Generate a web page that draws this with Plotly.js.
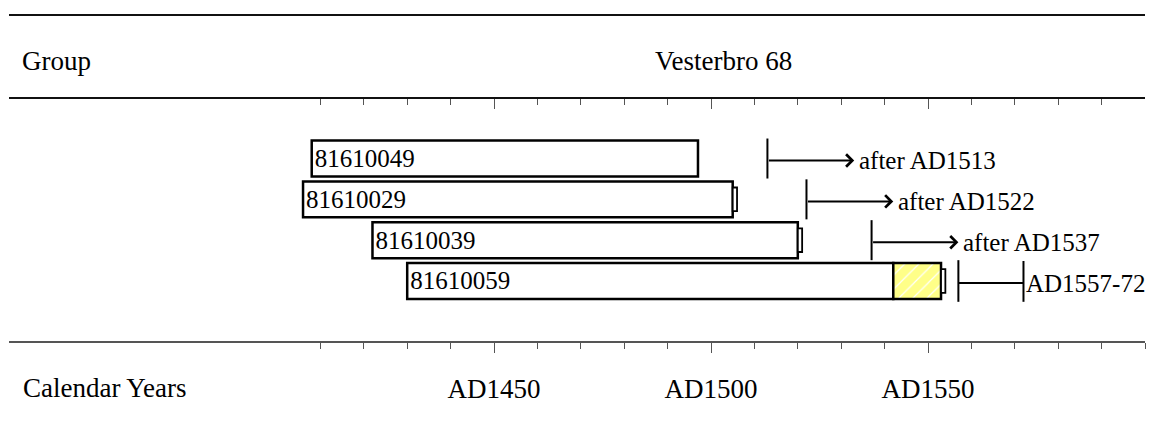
<!DOCTYPE html>
<html>
<head>
<meta charset="utf-8">
<script src="https://cdn.plot.ly/plotly-3.0.1.min.js"></script>
<style>html,body{margin:0;padding:0;background:#fff;}#chart{width:1149px;height:421px;}</style>
</head>
<body>
<div id="chart"></div>
<script>
// ---- data ----
const groupName = 'Vesterbro 68';
const sampleIds = ['81610049', '81610029', '81610039', '81610059'];
const rowPos = [1, 2, 3, 4];
const heartStart = [1408, 1406, 1422, 1430];
const heartEnd = [1497, 1505, 1520, 1542];
const sapRows = [4];
const sapStart = [1542];
const sapEnd = [1553];
const edgeRows = [2, 3, 4];
const edgeStart = [1505, 1520, 1553];
const edgeEnd = [1506, 1521, 1554];
const afterRows = [1, 2, 3];
const afterYears = [1513, 1522, 1537];
const afterLabels = ['after AD1513', 'after AD1522', 'after AD1537'];
const rangeRows = [4];
const rangeStart = [1557];
const rangeEnd = [1572];
const rangeLabels = ['AD1557-72'];
const majorTickYears = [1450, 1500, 1550];
const majorTickLabels = ['AD1450', 'AD1500', 'AD1550'];
const minorTickYears = [1410, 1420, 1430, 1440, 1460, 1470, 1480, 1490, 1510, 1520, 1530, 1540, 1560, 1570, 1580, 1590, 1600];

// ---- styling ----
const FONT = 'Liberation Serif, Times New Roman, serif';
const xRange = [1338.25, 1600];
const ARROW_LEN = 20;
const HALF = 0.49;

const traces = [];
traces.push({
  type: 'bar', orientation: 'h',
  y: rowPos, base: heartStart,
  x: heartEnd.map((e, i) => e - heartStart[i]),
  width: 0.88,
  marker: {color: 'white', line: {color: 'black', width: 2.5}},
  text: sampleIds, textposition: 'inside', insidetextanchor: 'start',
  constraintext: 'none',
  textfont: {family: FONT, size: 25, color: 'black'},
  hoverinfo: 'skip', showlegend: false
});
traces.push({
  type: 'bar', orientation: 'h',
  y: sapRows, base: sapStart,
  x: sapEnd.map((e, i) => e - sapStart[i]),
  width: 0.88,
  marker: {color: '#ffff88', line: {color: 'black', width: 2.5},
    pattern: {shape: '/', fgcolor: 'white', bgcolor: '#ffff88', size: 10, solidity: 0.12, fillmode: 'replace'}},
  hoverinfo: 'skip', showlegend: false
});
traces.push({
  type: 'bar', orientation: 'h',
  y: edgeRows, base: edgeStart,
  x: edgeEnd.map((e, i) => e - edgeStart[i]),
  width: 0.58,
  marker: {color: 'white', line: {color: 'black', width: 1.8}},
  hoverinfo: 'skip', showlegend: false
});
// vertical marker lines
const vx = [], vy = [];
afterYears.forEach((yr, i) => { vx.push(yr, yr, null); vy.push(afterRows[i] - HALF, afterRows[i] + HALF, null); });
rangeStart.forEach((s, i) => {
  const r = rangeRows[i], e = rangeEnd[i];
  vx.push(s, s, null, e, e, null, s, e, null);
  vy.push(r - 0.51, r + 0.51, null, r - 0.49, r + 0.51, null, r + 0.05, r + 0.05, null);
});
traces.push({type: 'scatter', mode: 'lines', x: vx, y: vy, line: {color: 'black', width: 2},
  hoverinfo: 'skip', showlegend: false, cliponaxis: false});
traces.push({type: 'scatter', x: [], y: [], xaxis: 'x2', hoverinfo: 'skip', showlegend: false});

const annotations = [];
afterYears.forEach((yr, i) => {
  annotations.push({x: yr + ARROW_LEN, y: afterRows[i] + 0.05, ax: yr, ay: afterRows[i] + 0.05,
    xref: 'x', yref: 'y', axref: 'x', ayref: 'y', text: '', showarrow: true,
    arrowhead: 4, arrowsize: 1.2, arrowwidth: 2, arrowcolor: 'black'});
  annotations.push({x: yr + ARROW_LEN, y: afterRows[i] + 0.05, xref: 'x', yref: 'y', text: afterLabels[i],
    showarrow: false, xanchor: 'left', yanchor: 'middle', xshift: 3,
    font: {family: FONT, size: 25, color: 'black'}});
});
rangeEnd.forEach((e, i) => {
  annotations.push({x: e, y: rangeRows[i] + 0.05, xref: 'x', yref: 'y', text: rangeLabels[i],
    showarrow: false, xanchor: 'left', yanchor: 'middle', xshift: 1,
    font: {family: FONT, size: 25, color: 'black'}});
});
annotations.push({x: 0.01, y: 1.155, xref: 'paper', yref: 'paper', text: 'Group', showarrow: false,
  xanchor: 'left', yanchor: 'middle', font: {family: FONT, size: 27, color: 'black'}});
annotations.push({x: 0.6294, y: 1.155, xref: 'paper', yref: 'paper', text: groupName, showarrow: false,
  xanchor: 'center', yanchor: 'middle', font: {family: FONT, size: 27, color: 'black'}});
annotations.push({x: 0.0103, y: -0.195, xref: 'paper', yref: 'paper', text: 'Calendar Years', showarrow: false,
  xanchor: 'left', yanchor: 'middle', font: {family: FONT, size: 27, color: 'black'}});

const layout = {
  width: 1149, height: 421,
  margin: {l: 9, r: 4, t: 99, b: 80, pad: 0},
  paper_bgcolor: 'white', plot_bgcolor: 'white',
  barmode: 'overlay', showlegend: false,
  font: {family: FONT, color: 'black'},
  xaxis: {
    range: xRange, showgrid: false, zeroline: false,
    showline: true, linecolor: '#555', linewidth: 2,
    ticks: 'outside', tickmode: 'array', tickvals: majorTickYears, ticktext: majorTickLabels,
    ticklen: 10, tickwidth: 1, tickcolor: '#555',
    ticklabelstandoff: 13,
    tickfont: {family: FONT, size: 27, color: 'black'},
    minor: {tickmode: 'array', tickvals: minorTickYears, ticks: 'outside', ticklen: 6, tickwidth: 1, tickcolor: '#555', showgrid: false}
  },
  xaxis2: {
    range: xRange, overlaying: 'x', side: 'top', anchor: 'y',
    showgrid: false, zeroline: false, showline: true, linecolor: '#111', linewidth: 2,
    ticks: 'inside', tickmode: 'array', tickvals: majorTickYears, ticklen: 10, tickwidth: 1, tickcolor: '#555',
    showticklabels: false,
    minor: {tickmode: 'array', tickvals: minorTickYears, ticks: 'inside', ticklen: 6, tickwidth: 1, tickcolor: '#555', showgrid: false}
  },
  yaxis: {range: [5.47, -0.458], visible: false, fixedrange: true},
  shapes: [{type: 'line', xref: 'paper', yref: 'paper', x0: 0, x1: 1, y0: 1.347, y1: 1.347, line: {color: '#111', width: 2}}],
  annotations: annotations
};

Plotly.newPlot('chart', traces, layout, {displayModeBar: false, staticPlot: true});
</script>
</body>
</html>
